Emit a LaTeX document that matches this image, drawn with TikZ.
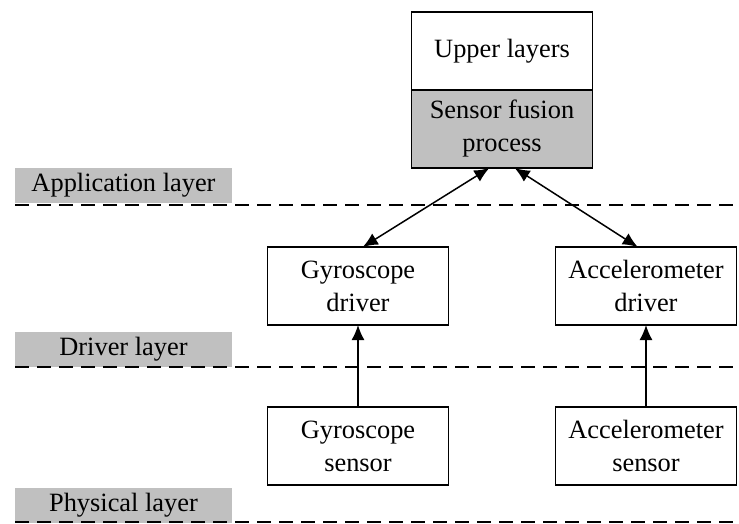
\documentclass[tikz,border=0pt]{standalone}
\usepackage{fontspec}
\setmainfont{Liberation Serif}
\usetikzlibrary{positioning,arrows.meta}
\definecolor{layergray}{RGB}{192,192,192}

\begin{document}
\begin{tikzpicture}[x=0.5pt, y=-0.5pt, line width=0.9pt, >={Latex[length=7.5pt,width=6.5pt]},
    main/.style = {rectangle, draw, outer sep=0pt, inner sep=0pt, minimum width=90.5pt, minimum height=39pt, align=center, font=\fontsize{13.2}{16.5}\selectfont},
    layer/.style = {rectangle, fill=layergray, inner sep=0pt, minimum width=108.5pt, minimum height=17.5pt, font=\fontsize{13.2}{16.5}\selectfont},
    sep/.style = {dash pattern=on 7pt off 4pt}]
    \useasboundingbox (0,0) rectangle (739,524);

    \node[main] (upper) at (502,51) {Upper layers};
    \node[main, fill=layergray] (fusion) [below=0pt of upper] {Sensor fusion\\process};

    \node[main] (gdrv) at (358,286) {Gyroscope\\driver};
    \node[main] (adrv) [right=53.5pt of gdrv] {Accelerometer\\driver};
    \node[main] (gsen) [below=41pt of gdrv] {Gyroscope\\sensor};
    \node[main] (asen) [below=41pt of adrv] {Accelerometer\\sensor};

    \node[layer] (app) at (123.5,185.5) {Application layer};
    \node[layer] (drv) at (123.5,349) {Driver layer};
    \node[layer] (phy) at (123.5,505) {Physical layer};

    \draw[sep] (15,205) -- (739,205);
    \draw[sep] (15,367) -- (739,367);
    \draw[sep] (15,522) -- (739,522);

    \path[<->, line width=0.75pt] (fusion.252) edge (gdrv.83);
    \path[<->, line width=0.75pt] (fusion.288) edge (adrv.102);
    \path[->, line width=0.75pt] (gsen) edge (gdrv);
    \path[->, line width=0.75pt] (asen) edge (adrv);
\end{tikzpicture}
\end{document}
